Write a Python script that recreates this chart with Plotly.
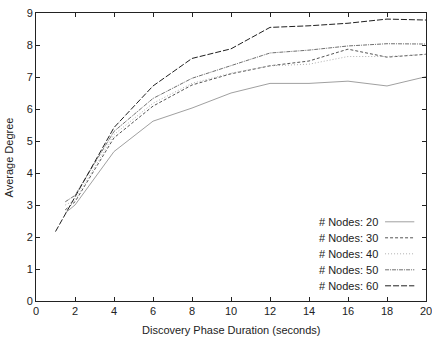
import plotly.graph_objects as go

x_common = [1.5, 2, 4, 6, 8, 10, 12, 14, 16, 18, 20]
x_60 = [1, 2, 4, 6, 8, 10, 12, 14, 16, 18, 20]

nodes_20 = [2.75, 3.0, 4.67, 5.62, 6.03, 6.5, 6.8, 6.8, 6.87, 6.72, 7.01]
nodes_30 = [2.85, 3.1, 5.1, 6.09, 6.75, 7.1, 7.35, 7.5, 7.87, 7.62, 7.71]
nodes_40 = [3.0, 3.15, 5.2, 6.18, 6.8, 7.12, 7.35, 7.4, 7.64, 7.64, 7.71]
nodes_50 = [3.1, 3.3, 5.3, 6.33, 6.96, 7.35, 7.75, 7.84, 7.97, 8.04, 8.03]
nodes_60 = [2.17, 3.25, 5.42, 6.72, 7.58, 7.88, 8.55, 8.6, 8.68, 8.81, 8.78]

labels = ["# Nodes: 20", "# Nodes: 30", "# Nodes: 40", "# Nodes: 50", "# Nodes: 60"]
xs = [x_common, x_common, x_common, x_common, x_60]
ys = [nodes_20, nodes_30, nodes_40, nodes_50, nodes_60]
colors = ["#a0a0a0", "#555555", "#b0b0b0", "#707070", "#202020"]
dashes = ["solid", "3px,2px", "1px,2px", "4px,1px,1px,1px", "6px,2px"]

x_ticks = [0, 2, 4, 6, 8, 10, 12, 14, 16, 18, 20]
y_ticks = [0, 1, 2, 3, 4, 5, 6, 7, 8, 9]

FONT = "Liberation Sans, Arial, sans-serif"

fig = go.Figure()
for xv, yv, lab, c, d in zip(xs, ys, labels, colors, dashes):
    fig.add_trace(go.Scatter(x=xv, y=yv, mode="lines", name=lab,
                             line=dict(color=c, width=1, dash=d), showlegend=False))

# custom legend: text then line sample (gnuplot style)
leg_y0 = 0.275
for i, (lab, c, d) in enumerate(zip(labels, colors, dashes)):
    yy = leg_y0 - i * (16 / 288)
    fig.add_annotation(x=0.882, y=yy, xref="paper", yref="paper", text=lab,
                       showarrow=False, xanchor="right", yanchor="middle",
                       font=dict(family=FONT, size=11, color="#222"))
    fig.add_shape(type="line", xref="paper", yref="paper",
                  x0=0.895, x1=0.97, y0=yy, y1=yy,
                  line=dict(color=c, width=1, dash=d))

# axis titles
fig.add_annotation(x=0.5, y=-0.072, xref="paper", yref="paper",
                   text="Discovery Phase Duration (seconds)", showarrow=False,
                   xanchor="center", yanchor="top",
                   font=dict(family=FONT, size=11, color="#222"))
fig.add_annotation(x=-0.068, y=0.5, xref="paper", yref="paper",
                   text="Average Degree", showarrow=False, textangle=-90,
                   xanchor="center", yanchor="middle",
                   font=dict(family=FONT, size=11, color="#222"))

fig.update_layout(
    width=432, height=338,
    margin=dict(l=36, r=6, t=13, b=37),
    paper_bgcolor="white", plot_bgcolor="white",
    font=dict(family=FONT, size=11, color="#222"),
)
fig.update_xaxes(range=[0, 20], tickvals=x_ticks, ticks="inside", ticklen=4,
                 tickcolor="#222", showgrid=False, zeroline=False, automargin=False,
                 ticklabeloverflow="allow",
                 showline=True, linecolor="#222", linewidth=1, mirror="ticks")
fig.update_yaxes(range=[0, 9], tickvals=y_ticks, ticks="inside", ticklen=4,
                 tickcolor="#222", showgrid=False, zeroline=False, automargin=False,
                 ticklabeloverflow="allow",
                 showline=True, linecolor="#222", linewidth=1, mirror="ticks")

fig.write_html("out.html", config={"displayModeBar": False},
               post_script="document.body.style.margin='0';")
